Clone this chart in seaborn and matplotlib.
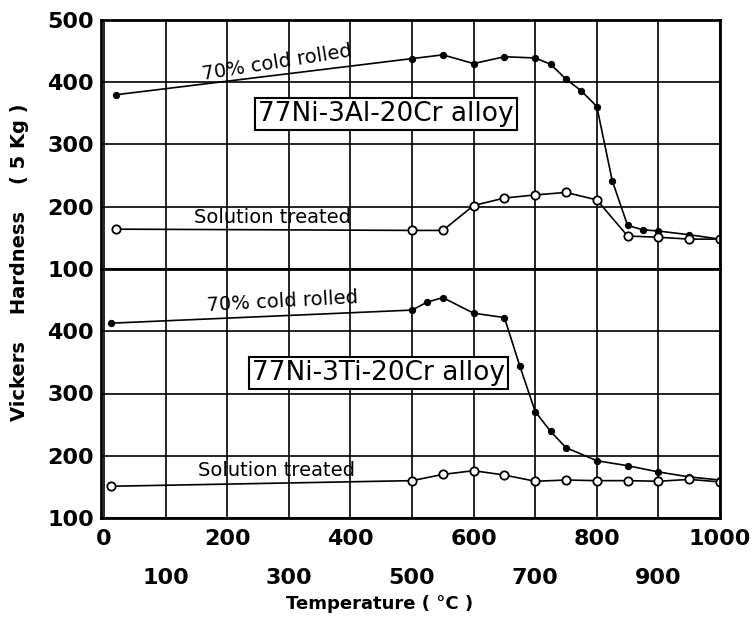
import matplotlib
matplotlib.use("Agg")
import matplotlib.pyplot as plt
import seaborn as sns
import numpy as np

# ---- data ----
al_cold_x = [20, 500, 550, 600, 650, 700, 725, 750, 775, 800, 825, 850, 875, 900, 950, 1000]
al_cold_y = [380, 438, 444, 430, 441, 439, 429, 405, 386, 361, 242, 170, 163, 161, 155, 148]
al_sol_x = [20, 500, 550, 600, 650, 700, 750, 800, 850, 900, 950, 1000]
al_sol_y = [164, 162, 162, 202, 214, 219, 223, 211, 153, 151, 148, 148]

ti_cold_x = [12, 500, 525, 550, 600, 650, 675, 700, 725, 750, 800, 850, 900, 950, 1000]
ti_cold_y = [413, 434, 447, 454, 429, 422, 344, 271, 239, 213, 192, 184, 174, 166, 161]
ti_sol_x = [12, 500, 550, 600, 650, 700, 750, 800, 850, 900, 950, 1000]
ti_sol_y = [151, 160, 170, 176, 169, 159, 161, 160, 160, 159, 162, 158]

y_ticks_top = [100, 200, 300, 400, 500]
y_ticks_bottom = [100, 200, 300, 400]
x_ticks_even = [0, 200, 400, 600, 800, 1000]
x_ticks_odd = [100, 300, 500, 700, 900]

sns.set_style("white")
plt.rcParams['font.family'] = ['DejaVu Sans']
plt.rcParams['text.color'] = 'black'
plt.rcParams['xtick.color'] = 'black'
plt.rcParams['ytick.color'] = 'black'
plt.rcParams['axes.labelcolor'] = 'black'

fig = plt.figure(figsize=(7.54, 6.26), dpi=100)
L, R = 101 / 754, 720 / 754
top_px, mid_px, bot_px = 20, 269, 518
H = 626
ax_top = fig.add_axes([L, 1 - mid_px / H, R - L, (mid_px - top_px) / H])
ax_bot = fig.add_axes([L, 1 - bot_px / H, R - L, (bot_px - mid_px) / H])

def draw(ax, cx, cy, sx, sy):
    sns.lineplot(x=cx, y=cy, ax=ax, color='black', lw=1.2, marker='o', markersize=4.5,
                 markerfacecolor='black', markeredgecolor='black', estimator=None, sort=False)
    sns.lineplot(x=sx, y=sy, ax=ax, color='black', lw=1.2, marker='o', markersize=6,
                 markerfacecolor='white', markeredgecolor='black', markeredgewidth=1.3,
                 estimator=None, sort=False)

draw(ax_top, al_cold_x, al_cold_y, al_sol_x, al_sol_y)
draw(ax_bot, ti_cold_x, ti_cold_y, ti_sol_x, ti_sol_y)

for ax, yt in [(ax_top, y_ticks_top), (ax_bot, y_ticks_bottom)]:
    ax.set_xlim(-5, 1000)
    ax.set_ylim(100, 500)
    ax.set_xticks(x_ticks_even)
    ax.set_xticks(x_ticks_odd, minor=True)
    ax.set_yticks([100, 200, 300, 400, 500])
    ax.set_yticklabels([str(v) if v in yt else '' for v in [100, 200, 300, 400, 500]],
                       fontsize=16, fontweight='bold', color='black')
    ax.grid(True, which='both', axis='x', color='black', lw=1.2)
    ax.grid(True, which='major', axis='y', color='black', lw=1.2)
    ax.tick_params(axis='both', which='both', length=0)
    ax.tick_params(axis='y', pad=5)
    for s in ax.spines.values():
        s.set_color('black')
        s.set_linewidth(2.0)
    ax.set_xlabel('')
    ax.set_ylabel('')
    ax.set_axisbelow(True)

ax_top.set_xticklabels([])
ax_top.set_xticklabels([], minor=True)
ax_bot.set_xticklabels([str(v) for v in x_ticks_even], fontsize=16, fontweight='bold', color='black')
ax_bot.set_xticklabels([str(v) for v in x_ticks_odd], minor=True, fontsize=16, fontweight='bold',
                       color='black')
ax_bot.tick_params(axis='x', which='major', pad=8)
ax_bot.tick_params(axis='x', which='minor', pad=36)

# annotations
ax_top.text(281, 432, '70% cold rolled', fontsize=14, rotation=9, ha='center', va='center')
ax_top.text(273, 182, 'Solution treated', fontsize=14, ha='center', va='center')
ax_top.text(458, 349, '77Ni-3Al-20Cr alloy', fontsize=19, ha='center', va='center',
            bbox=dict(boxstyle='square,pad=0.12', fc='white', ec='black', lw=1.5))

ax_bot.text(289, 447, '70% cold rolled', fontsize=14, rotation=3, ha='center', va='center')
ax_bot.text(280, 176, 'Solution treated', fontsize=14, ha='center', va='center')
ax_bot.text(446, 333, '77Ni-3Ti-20Cr alloy', fontsize=19, ha='center', va='center',
            bbox=dict(boxstyle='square,pad=0.12', fc='white', ec='black', lw=1.5))

fig.text(20 / 754, 1 - 262 / H, 'Vickers    Hardness    ( 5 Kg )', rotation=90,
         fontsize=14, fontweight='bold', ha='center', va='center')
fig.text(380 / 754, 1 - 604 / H, 'Temperature ( °C )', fontsize=13, fontweight='bold',
         ha='center', va='center')

fig.savefig('out.png', dpi=100)
